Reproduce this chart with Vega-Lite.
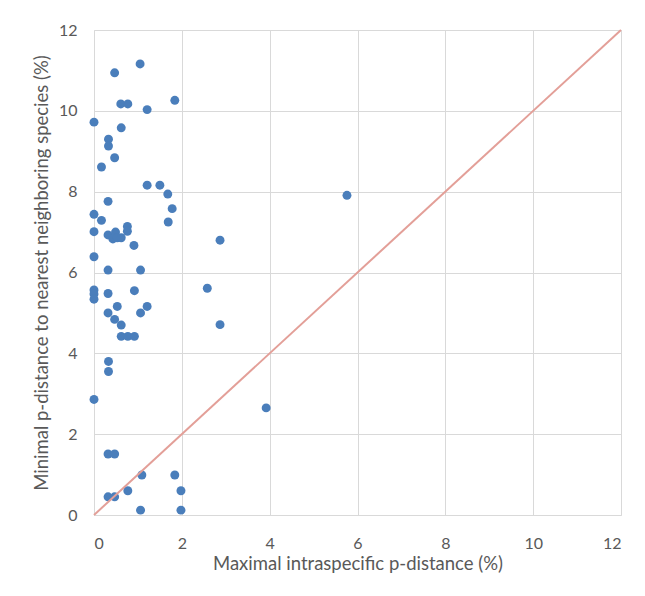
{
  "$schema": "https://vega.github.io/schema/vega-lite/v6.json",
  "width": 527,
  "height": 485,
  "autosize": {"type": "none"},
  "padding": {"left": 94, "top": 30, "right": 24, "bottom": 81},
  "background": "white",
  "config": {
    "view": {"stroke": null},
    "font": "Lato",
    "axis": {
      "gridColor": "#d9d9d9",
      "gridWidth": 1,
      "domainColor": "#d9d9d9",
      "ticks": false,
      "labelColor": "#595959",
      "titleColor": "#595959",
      "labelFont": "Lato",
      "titleFont": "Lato",
      "labelFontSize": 16,
      "titleFontSize": 18.5,
      "titleFontWeight": "normal"
    }
  },
  "datasets": {
    "pts": [
      {"x": 1.05, "y": 11.16}, {"x": 0.47, "y": 10.94}, {"x": 0.61, "y": 10.17}, {"x": 0.77, "y": 10.17},
      {"x": 1.84, "y": 10.26}, {"x": 1.21, "y": 10.03}, {"x": 0.0, "y": 9.72}, {"x": 0.62, "y": 9.58},
      {"x": 0.33, "y": 9.30}, {"x": 0.33, "y": 9.13}, {"x": 0.47, "y": 8.84}, {"x": 0.17, "y": 8.61},
      {"x": 1.21, "y": 8.16}, {"x": 1.50, "y": 8.16}, {"x": 1.68, "y": 7.94}, {"x": 0.32, "y": 7.76},
      {"x": 1.78, "y": 7.58}, {"x": 0.0, "y": 7.44}, {"x": 0.17, "y": 7.29}, {"x": 1.69, "y": 7.25},
      {"x": 0.76, "y": 7.14}, {"x": 0.76, "y": 7.02}, {"x": 0.0, "y": 7.01}, {"x": 0.32, "y": 6.93},
      {"x": 0.49, "y": 7.0}, {"x": 0.43, "y": 6.83}, {"x": 0.53, "y": 6.86}, {"x": 0.62, "y": 6.86},
      {"x": 0.91, "y": 6.67}, {"x": 0.0, "y": 6.39}, {"x": 0.32, "y": 6.06}, {"x": 1.06, "y": 6.06},
      {"x": 2.87, "y": 6.80}, {"x": 2.58, "y": 5.61}, {"x": 0.0, "y": 5.57}, {"x": 0.0, "y": 5.47},
      {"x": 0.0, "y": 5.34}, {"x": 0.32, "y": 5.48}, {"x": 0.92, "y": 5.55}, {"x": 0.53, "y": 5.16},
      {"x": 1.21, "y": 5.16}, {"x": 0.32, "y": 5.0}, {"x": 1.06, "y": 5.0}, {"x": 0.47, "y": 4.84},
      {"x": 0.62, "y": 4.70}, {"x": 2.87, "y": 4.71}, {"x": 0.62, "y": 4.42}, {"x": 0.77, "y": 4.42},
      {"x": 0.92, "y": 4.42}, {"x": 0.33, "y": 3.80}, {"x": 0.33, "y": 3.55}, {"x": 0.0, "y": 2.86},
      {"x": 0.32, "y": 1.51}, {"x": 0.47, "y": 1.51}, {"x": 1.09, "y": 0.99}, {"x": 1.84, "y": 0.99},
      {"x": 0.32, "y": 0.45}, {"x": 0.47, "y": 0.45}, {"x": 0.77, "y": 0.60}, {"x": 1.98, "y": 0.60},
      {"x": 1.06, "y": 0.12}, {"x": 1.98, "y": 0.12}, {"x": 3.92, "y": 2.65}, {"x": 5.76, "y": 7.91}
    ],
    "diag": [{"x": 0, "y": 0}, {"x": 12, "y": 12}]
  },
  "layer": [
    {
      "data": {"name": "pts"},
      "mark": {"type": "point", "filled": true, "opacity": 1, "color": "#4a7ebb", "size": 80},
      "encoding": {
        "x": {
          "field": "x", "type": "quantitative",
          "scale": {"domain": [0, 12], "nice": false},
          "axis": {"values": [0, 2, 4, 6, 8, 10, 12], "labelPadding": 20, "title": "Maximal intraspecific p-distance (%)", "titlePadding": 3}
        },
        "y": {
          "field": "y", "type": "quantitative",
          "scale": {"domain": [0, 12], "nice": false},
          "axis": {"values": [0, 2, 4, 6, 8, 10, 12], "labelPadding": 17, "title": "Minimal p-distance to nearest neighboring species (%)", "titlePadding": 7}
        }
      }
    },
    {
      "data": {"name": "diag"},
      "mark": {"type": "line", "color": "#e39f98", "strokeWidth": 2},
      "encoding": {
        "x": {"field": "x", "type": "quantitative"},
        "y": {"field": "y", "type": "quantitative"}
      }
    }
  ]
}
